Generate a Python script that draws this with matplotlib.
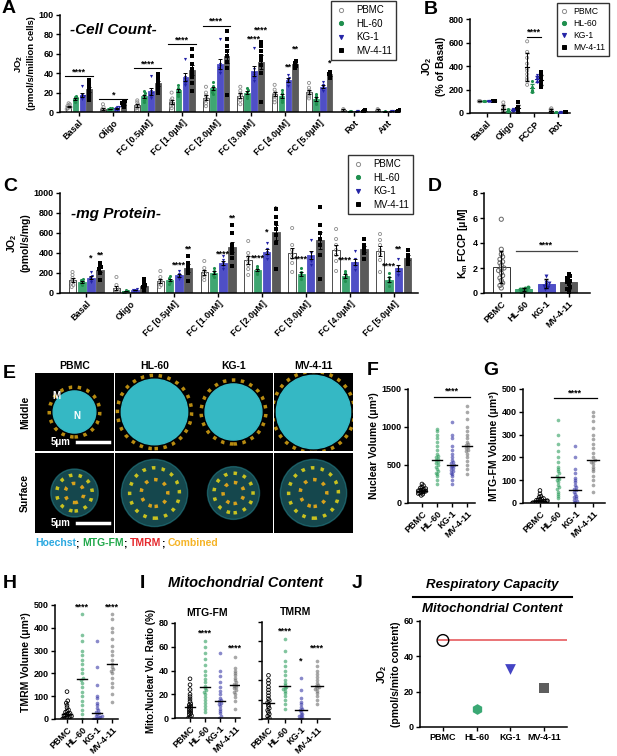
import numpy as np
import matplotlib
matplotlib.use("Agg")
from matplotlib import pyplot as plt
from matplotlib.lines import Line2D
from matplotlib.patches import Circle

plt.rcParams['font.family'] = ['Liberation Sans', 'DejaVu Sans']
plt.rcParams['font.weight'] = 'bold'
plt.rcParams['axes.labelweight'] = 'bold'
plt.rcParams['axes.titleweight'] = 'bold'
plt.rcParams['mathtext.fontset'] = 'custom'
plt.rcParams['mathtext.rm'] = 'Liberation Sans:bold'
plt.rcParams['mathtext.it'] = 'Liberation Sans:italic:bold'
plt.rcParams['mathtext.bf'] = 'Liberation Sans:bold'
plt.rcParams['mathtext.default'] = 'rm'
plt.rcParams['axes.linewidth'] = 1.1
plt.rcParams['xtick.major.width'] = 1.0
plt.rcParams['ytick.major.width'] = 1.0
plt.rcParams['xtick.major.size'] = 3
plt.rcParams['ytick.major.size'] = 3
plt.rcParams['xtick.major.pad'] = 1.5
plt.rcParams['ytick.major.pad'] = 1.5
plt.rcParams['xtick.labelsize'] = 6.5
plt.rcParams['ytick.labelsize'] = 6.5

cells = ['PBMC', 'HL-60', 'KG-1', 'MV-4-11']
bar_col = ['white', '#3fa672', '#4f4fc6', '#5a5a5a']
pt_col = ['#8c8c8c', '#1f8f4e', '#2323a6', 'black']
swarm_col = ['black', '#2e9e5e', '#3a3aa8', '#6e6e6e']
marks = ['o', 'o', 'v', 's']

# Panel A: JO2 per million cells
a_cats = ['Basal', 'Oligo', 'FC [0.5\u03bcM]', 'FC [1.0\u03bcM]', 'FC [2.0\u03bcM]',
          'FC [3.0\u03bcM]', 'FC [4.0\u03bcM]', 'FC [5.0\u03bcM]', 'Rot', 'Ant']
a_pbmc = [[3, 4, 5, 6, 7, 8, 9, 5], [0, 1, 2, 3, 5, 8], [2, 4, 5, 6, 8, 10, 12],
          [4, 6, 8, 10, 12, 14, 20], [6, 9, 12, 14, 17, 20, 26], [8, 12, 15, 17, 19, 22, 26],
          [10, 13, 16, 18, 20, 23, 28], [14, 16, 18, 20, 22, 25, 30], [1, 2, 3], [1, 2, 3]]
a_hl60 = [[10, 12, 13, 14, 15, 16], [2, 3, 3, 4, 4], [10, 12, 14, 16, 18, 20, 22],
          [17, 19, 21, 23, 25, 28], [19, 21, 23, 25, 27, 31], [14, 17, 19, 21, 23, 25],
          [10, 12, 15, 17, 20, 23], [8, 10, 12, 14, 17, 19], [0.5, 1, 1.5], [0.5, 1]]
a_kg1 = [[13, 15, 16, 17, 18, 27], [2, 3, 4, 5, 5], [14, 16, 18, 20, 22, 37],
         [28, 30, 32, 34, 36, 55], [40, 43, 45, 47, 49, 75], [32, 35, 38, 40, 44, 66],
         [27, 31, 33, 35, 38], [22, 24, 26, 28, 31], [0.5, 1, 1.5], [0.5, 1, 1.5]]
a_mv411 = [[12, 16, 20, 22, 25, 28, 30, 33], [5, 7, 8, 9, 10, 11], [20, 24, 27, 30, 33, 36, 39],
           [22, 30, 36, 40, 44, 50, 58, 65], [18, 45, 52, 58, 63, 68, 75, 84],
           [10, 40, 48, 54, 58, 63, 68, 72], [45, 47, 49, 51, 53], [35, 37, 39, 41],
           [0.5, 1, 2], [0.5, 1, 2]]
a_sig = [(0, None, 37, '****'), (1, None, 13, '*'), (2, None, 45, '****'),
         (3, None, 70, '****'), (4, None, 89, '****'), (5, 2, 71, '****'),
         (5, 3, 80, '****'), (6, 2, 42, '**'), (6, 3, 60, '**'), (7, 3, 46, '*')]

# Panel B: % of basal
b_cats = ['Basal', 'Oligo', 'FCCP', 'Rot']
b_pbmc = [[100, 100, 100], [0, 10, 20, 30, 40, 60, 90],
          [240, 280, 300, 330, 360, 380, 420, 470, 520, 610], [0, 5, 10, 20, 30, 40]]
b_hl60 = [[100, 100, 100], [10, 20, 25, 30], [180, 190, 200, 220, 270], [0, 5, 10]]
b_kg1 = [[100, 100, 100], [15, 25, 30, 35], [260, 280, 290, 300, 320], [0, 5, 10]]
b_mv411 = [[100, 100, 100], [5, 20, 30, 40, 55, 90], [220, 240, 260, 280, 300, 320, 350], [0, 5, 10]]

# Panel C: JO2 per mg protein
c_cats = a_cats[:8]
c_pbmc = [[60, 80, 100, 115, 130, 150, 180, 210], [0, 10, 20, 30, 50, 80, 160],
          [60, 80, 100, 110, 130, 160, 220], [130, 160, 180, 200, 220, 250, 320],
          [180, 240, 280, 320, 360, 400, 520], [210, 300, 350, 390, 430, 480, 650],
          [220, 320, 380, 430, 480, 540, 640], [210, 330, 390, 430, 480, 530, 590]]
c_hl60 = [[80, 100, 115, 130, 140], [10, 15, 20, 25, 30], [90, 110, 130, 150, 170],
          [160, 180, 200, 220, 250], [190, 210, 230, 250, 270], [140, 170, 190, 210, 250],
          [120, 150, 170, 200, 220], [70, 110, 130, 160, 200]]
c_kg1 = [[110, 130, 150, 170, 210], [20, 25, 30, 35, 40], [140, 160, 175, 190, 220],
         [240, 270, 300, 330, 370], [340, 380, 410, 440, 500], [280, 320, 360, 400, 530],
         [230, 270, 300, 340, 420], [180, 210, 240, 270, 340]]
c_mv411 = [[130, 200, 240, 260, 280, 300], [20, 40, 60, 80, 100, 140],
           [120, 200, 240, 270, 300, 370], [270, 350, 400, 440, 480, 600, 680],
           [240, 500, 580, 640, 700, 760, 840], [140, 380, 480, 540, 600, 680, 860],
           [340, 400, 440, 480, 540], [290, 320, 350, 380, 430]]
c_sig = [(0, 2, 300, '*'), (0, 3, 330, '**'), (2, 2, 230, '****'), (2, 3, 390, '**'),
         (3, 2, 340, '****'), (3, 3, 700, '**'), (4, 1, 300, '****'), (4, 2, 560, '*'),
         (4, 3, 790, '*'), (5, 1, 290, '****'), (6, 1, 280, '****'), (7, 1, 220, '****'),
         (7, 2, 390, '**')]

# Panel D: Km FCCP
d_pbmc = [0.4, 0.6, 0.8, 1.0, 1.2, 1.4, 1.6, 1.8, 1.9, 2.0, 2.2, 2.4, 2.5, 2.7, 2.9, 3.1, 3.5, 5.9]
d_hl60 = [0.1, 0.2, 0.25, 0.3, 0.35, 0.4, 0.5]
d_kg1 = [0.3, 0.5, 0.6, 0.7, 0.8, 0.9, 1.4]
d_mv411 = [0.1, 0.3, 0.5, 0.7, 0.9, 1.0, 1.2, 1.4, 1.5]

# Panel F: nuclear volume
f_pbmc = [100, 115, 125, 130, 140, 145, 150, 155, 160, 165, 170, 175, 180, 190, 200, 210, 230, 250]
f_hl60 = [250, 300, 350, 380, 400, 420, 450, 480, 500, 520, 540, 560, 580, 600, 620, 650,
          700, 750, 800, 850, 900, 950, 970]
f_kg1 = [250, 300, 350, 380, 400, 420, 440, 460, 480, 490, 500, 520, 540, 560, 600, 650,
         700, 750, 850, 900, 1060]
f_mv411 = [380, 450, 500, 550, 600, 640, 680, 700, 720, 740, 760, 780, 800, 850, 900, 950,
           1000, 1100, 1200, 1280]

# Panel G: MTG-FM volume
g_pbmc = [0, 1, 2, 3, 4, 5, 6, 7, 8, 9, 10, 12, 14, 16, 18, 20, 25, 30, 40, 55]
g_hl60 = [20, 30, 40, 50, 60, 70, 80, 90, 100, 105, 110, 120, 130, 140, 150, 160, 180, 200,
          230, 260, 300, 365]
g_kg1 = [0, 5, 10, 15, 20, 25, 30, 40, 50, 55, 60, 70, 80, 90, 100, 110, 130, 150, 200, 250]
g_mv411 = [50, 80, 100, 120, 140, 150, 160, 170, 180, 185, 190, 200, 220, 240, 260, 280,
           300, 330, 360, 380, 400]

# Panel H: TMRM volume
h_pbmc = [0, 2, 4, 6, 8, 10, 12, 15, 18, 20, 22, 25, 30, 35, 40, 50, 60, 70, 80, 120]
h_hl60 = [0, 20, 40, 60, 80, 100, 120, 140, 160, 170, 180, 200, 220, 240, 260, 280, 300,
          340, 370, 460]
h_kg1 = [0, 0, 2, 5, 8, 10, 12, 15, 20, 25, 30, 40, 50, 60, 70, 90, 100, 150, 230, 340]
h_mv411 = [75, 110, 140, 160, 180, 200, 210, 220, 230, 240, 260, 280, 300, 320, 350, 380,
           400, 440, 460]

# Panel I: mito:nuclear volume ratio
i_mtg_pbmc = [0, 1, 2, 3, 4, 5, 6, 7, 8, 9, 10, 11, 12, 14, 16, 18, 20, 24, 28, 33]
i_mtg_hl60 = [5, 8, 10, 13, 15, 18, 20, 22, 24, 25, 27, 30, 33, 36, 40, 45, 50, 55, 60, 65]
i_mtg_kg1 = [0, 2, 4, 6, 8, 10, 12, 13, 14, 15, 17, 20, 23, 26, 30, 35, 40, 55]
i_mtg_mv411 = [8, 14, 18, 20, 22, 24, 25, 26, 27, 28, 29, 30, 32, 34, 36, 38, 40, 42, 51]
i_tmrm_pbmc = [0, 1, 3, 5, 7, 9, 11, 13, 15, 17, 19, 21, 24, 27, 30, 33, 37, 40, 45]
i_tmrm_hl60 = [10, 15, 20, 24, 27, 29, 31, 32, 33, 35, 37, 40, 45, 50, 55, 60, 70, 82]
i_tmrm_kg1 = [0, 1, 2, 3, 4, 5, 7, 9, 10, 12, 15, 18, 22, 30, 42]
i_tmrm_mv411 = [15, 20, 24, 27, 29, 31, 32, 33, 34, 35, 37, 40, 43, 46, 50, 55, 60]

# Panel J: respiratory capacity / mito content
j_vals = [49, 10, 33, 22]
j_marks = ['o', 'h', 'v', 's']
j_cols = ['none', '#3aa874', '#4444c4', '#5e5e5e']

W, H = 617, 756
fig = plt.figure(figsize=(W / 100, H / 100), dpi=100)
overlay = fig.add_axes([0, 0, 1, 1])
overlay.axis('off')


def px_axes(l, t, r, b):
    return fig.add_axes([l / W, 1 - b / H, (r - l) / W, (b - t) / H])


def ftext(x, y, s, **kw):
    return fig.text(x / W, 1 - y / H, s, **kw)


def swarm(vals, bin_size, dx, maxw):
    vals = np.asarray(vals, float)
    off = np.zeros(len(vals))
    bins = np.floor(vals / bin_size)
    for b in np.unique(bins):
        idx = np.where(bins == b)[0]
        o = (np.arange(len(idx)) - (len(idx) - 1) / 2) * dx
        off[idx] = np.clip(o, -maxw, maxw)
    return off


def style(ax):
    for s in ['top', 'right']:
        ax.spines[s].set_visible(False)


def add_legend(ax, x0, y0, size=7, hl=1.2, tp=0.9):
    hs = []
    for j in range(4):
        fc = 'none' if j == 0 else pt_col[j]
        hs.append(Line2D([], [], ls='none', marker=marks[j], ms=3, mfc=fc, mec=pt_col[j], mew=0.7))
    leg = ax.legend(hs, cells, loc='upper left', bbox_to_anchor=(x0 / W, 1 - y0 / H),
                    bbox_transform=fig.transFigure, frameon=True, fancybox=False,
                    edgecolor='black', fontsize=size, handlelength=hl, handletextpad=tp,
                    borderpad=0.45, labelspacing=0.35, borderaxespad=0)
    leg.get_frame().set_linewidth(1.0)
    for t in leg.get_texts():
        t.set_fontweight('normal')


def bar_panel(ax, series, bw, bin_size, sig):
    for j, groups in enumerate(series):
        for i, pts in enumerate(groups):
            x = i + (j - 1.5) * bw
            pts = np.asarray(pts, float)
            m = pts.mean()
            se = pts.std(ddof=1) / np.sqrt(len(pts))
            ax.bar(x, m, width=bw * 0.82, color=bar_col[j],
                   edgecolor='#333333' if j == 0 else bar_col[j], lw=0.6, zorder=1)
            off = swarm(pts, bin_size, bw * 0.18, bw * 0.4)
            if j == 0:
                ax.scatter(x + off, pts, s=5, marker='o', facecolors='none',
                           edgecolors=pt_col[0], lw=0.6, zorder=2)
            else:
                ax.scatter(x + off, pts, s=5, marker=marks[j], color=pt_col[j], lw=0, zorder=2)
            ax.errorbar(x, m, yerr=se, color='black', lw=0.7, capsize=1.2, capthick=0.7, zorder=3)
    for g, k, y, s in sig:
        if k is None:
            ax.plot([g - 2 * bw, g + 2 * bw], [y, y], color='black', lw=0.8)
            ax.text(g, y, s, ha='center', va='bottom', fontsize=6.5)
        else:
            ax.text(g + (k - 1.5) * bw, y, s, ha='center', va='bottom', fontsize=6.5)


def rot_labels(ax, labels, size=6.5):
    ax.set_xticks(range(len(labels)))
    ax.set_xticklabels(labels, rotation=45, ha='right', rotation_mode='anchor', fontsize=size)


def swarm_panel(ax, groups, bin_size, dx, maxw, s=7):
    for j, vals in enumerate(groups):
        vals = np.asarray(vals, float)
        off = swarm(vals, bin_size, dx, maxw)
        if j == 0:
            ax.scatter(j + off, vals, s=s, facecolors='none', edgecolors='black', lw=0.6, zorder=2)
        else:
            ax.scatter(j + off, vals, s=s, color=swarm_col[j], alpha=0.6, lw=0, zorder=2)
        med = np.median(vals)
        ax.plot([j - 0.35, j + 0.35], [med, med], color='black', lw=1.0, zorder=3)
    rot_labels(ax, cells)
    style(ax)


# ---- A ----
axA = px_axes(60, 15, 400, 112)
bar_panel(axA, [a_pbmc, a_hl60, a_kg1, a_mv411], 0.2, 3, a_sig)
axA.set_xlim(-0.55, 9.35)
axA.set_ylim(0, 100)
axA.set_yticks(range(0, 101, 20))
rot_labels(axA, a_cats)
style(axA)
axA.set_ylabel('JO$_2$\n(pmol/s/million cells)', fontsize=6.8, labelpad=2)
axA.text(0.03, 0.92, '-Cell Count-', transform=axA.transAxes, fontsize=11,
         fontstyle='italic', va='top')
add_legend(axA, 331, 1)
ftext(2, 0, 'A', fontsize=14, va='top')

# ---- B ----
axB = px_axes(470, 19, 570, 113)
bser = [b_pbmc, b_hl60, b_kg1, b_mv411]
for j, groups in enumerate(bser):
    for i, pts in enumerate(groups):
        x = i + (j - 1.5) * 0.2
        pts = np.asarray(pts, float)
        off = swarm(pts, 15, 0.03, 0.08)
        if j == 0:
            axB.scatter(x + off, pts, s=5, facecolors='none', edgecolors=pt_col[0], lw=0.6, zorder=2)
        else:
            axB.scatter(x + off, pts, s=5, marker=marks[j], color=pt_col[j], lw=0, zorder=2)
        m, sd = pts.mean(), pts.std(ddof=1)
        c = pt_col[j] if j else 'black'
        axB.errorbar(x, m, yerr=sd, color=c, lw=0.7, capsize=1.2, zorder=3)
        axB.plot([x - 0.08, x + 0.08], [m, m], color=c, lw=0.8, zorder=3)
axB.plot([1.7, 2.3], [650, 650], color='black', lw=0.8)
axB.text(2, 650, '****', ha='center', va='bottom', fontsize=6.5)
axB.set_xlim(-0.7, 3.5)
axB.set_ylim(0, 800)
axB.set_yticks(range(0, 801, 200))
rot_labels(axB, b_cats)
style(axB)
axB.set_ylabel('JO$_2$\n(% of Basal)', fontsize=7.5, labelpad=2)
add_legend(axB, 557, 3, size=6.2, hl=0.8, tp=0.6)
ftext(424, 1, 'B', fontsize=14, va='top')

# ---- C ----
axC = px_axes(60, 193, 418, 293)
bar_panel(axC, [c_pbmc, c_hl60, c_kg1, c_mv411], 0.21, 30, c_sig)
axC.set_xlim(-0.6, 7.55)
axC.set_ylim(0, 1000)
axC.set_yticks(range(0, 1001, 200))
rot_labels(axC, c_cats)
style(axC)
axC.set_ylabel('JO$_2$\n(pmol/s/mg)', fontsize=7.5, labelpad=2)
axC.text(0.03, 0.86, '-mg Protein-', transform=axC.transAxes, fontsize=11,
         fontstyle='italic', va='top')
add_legend(axC, 348, 155)
ftext(3, 178, 'C', fontsize=14, va='top')

# ---- D ----
axD = px_axes(484, 193, 590, 293)
dser = [d_pbmc, d_hl60, d_kg1, d_mv411]
for j, pts in enumerate(dser):
    pts = np.asarray(pts, float)
    m, sd = pts.mean(), pts.std(ddof=1)
    axD.bar(j, m, width=0.75, color=bar_col[j], edgecolor='#333333' if j == 0 else bar_col[j],
            lw=0.7, zorder=1)
    off = swarm(pts, 0.3, 0.12, 0.32)
    if j == 0:
        axD.scatter(j + off, pts, s=9, facecolors='none', edgecolors='#666666', lw=0.7, zorder=2)
    else:
        axD.scatter(j + off, pts, s=8, marker=marks[j], color=pt_col[j], lw=0, zorder=2)
    axD.errorbar(j, m, yerr=sd, color='black', lw=0.8, capsize=1.5, zorder=3)
axD.plot([1 - 0.35, 3 + 0.35], [3.4, 3.4], color='#444444', lw=0.9)
axD.text(2, 3.45, '****', ha='center', va='bottom', fontsize=6.5)
axD.set_xlim(-0.77, 3.95)
axD.set_ylim(0, 8)
axD.set_yticks(range(0, 9, 2))
rot_labels(axD, cells)
style(axD)
axD.set_ylabel('K$_\\mathregular{m}$ FCCP [\u03bcM]', fontsize=7.5, labelpad=2)
ftext(428, 178, 'D', fontsize=14, va='top')

# ---- E (image placeholders) ----
tile_x = [35, 115, 194, 274]
tile_w = 79
nuc_mid = [0.27, 0.42, 0.36, 0.47]
nuc_srf = [0.30, 0.42, 0.33, 0.42]
for c in range(4):
    ftext(tile_x[c] + tile_w / 2, 366, cells[c], fontsize=7.5, ha='center', va='center')
    for r, (top, bot) in enumerate([(373, 451), (453, 533)]):
        ax = px_axes(tile_x[c], top, tile_x[c] + tile_w, bot)
        ax.set_facecolor('black')
        ax.set_xlim(0, 1)
        ax.set_ylim(0, 1)
        ax.set_xticks([])
        ax.set_yticks([])
        for s in ax.spines.values():
            s.set_visible(False)
        if r == 0:
            rad = nuc_mid[c]
            ax.add_patch(Circle((0.5, 0.5), rad + 0.05, fill=False, ec='#d9a514', lw=2.5,
                                ls=(0, (1, 1.6)), alpha=0.85))
            ax.add_patch(Circle((0.5, 0.5), rad, color='#35b8c4'))
        else:
            rad = nuc_srf[c]
            ax.add_patch(Circle((0.5, 0.5), rad, color='#2a8f9a', alpha=0.5))
            ax.add_patch(Circle((0.5, 0.5), rad * 0.75, fill=False, ec='#c9c21f', lw=2.5,
                                ls=(0, (1, 1.8))))
            ax.add_patch(Circle((0.5, 0.5), rad * 0.4, fill=False, ec='#d8a21c', lw=2.5,
                                ls=(0, (1, 1.8))))
        if c == 0:
            ax.plot([0.53, 0.94], [0.12, 0.12], color='white', lw=2.5)
            ax.text(0.2, 0.12, '5\u03bcm', color='white', fontsize=7, va='center')
            if r == 0:
                ax.text(0.22, 0.7, 'M', color='white', fontsize=7, va='center')
                ax.text(0.48, 0.45, 'N', color='white', fontsize=7, va='center')
ftext(25, 412, 'Middle', fontsize=7.5, rotation=90, ha='center', va='center')
ftext(25, 493, 'Surface', fontsize=7.5, rotation=90, ha='center', va='center')
ftext(3, 365, 'E', fontsize=14, va='top')
prev = overlay.text(35 / W, 1 - 543 / H, 'Hoechst', color='#2aa8e0', fontsize=7.5,
                    va='center', transform=overlay.transAxes)
for s, col in [('; ', 'black'), ('MTG-FM', '#20a84a'), ('; ', 'black'), ('TMRM', '#e5262b'),
               ('; ', 'black'), ('Combined', '#f5b427')]:
    prev = overlay.annotate(s, xy=(1, 0), xycoords=prev, va='bottom', ha='left',
                            color=col, fontsize=7.5)

# ---- F ----
axF = px_axes(408, 389, 475, 503)
swarm_panel(axF, [f_pbmc, f_hl60, f_kg1, f_mv411], 40, 0.1, 0.42)
axF.plot([0.8, 3.2], [1400, 1400], color='black', lw=0.9)
axF.text(2, 1410, '****', ha='center', va='bottom', fontsize=6.5)
axF.set_xlim(-0.93, 3.53)
axF.set_ylim(0, 1500)
axF.set_yticks([0, 500, 1000, 1500])
axF.set_ylabel('Nuclear Volume (\u03bcm\u00b3)', fontsize=7.5, labelpad=2)
ftext(367, 362, 'F', fontsize=14, va='top')

# ---- G ----
axG = px_axes(523, 389, 605, 503)
swarm_panel(axG, [g_pbmc, g_hl60, g_kg1, g_mv411], 12, 0.1, 0.42)
axG.plot([0.8, 3.2], [460, 460], color='black', lw=0.9)
axG.text(2, 463, '****', ha='center', va='bottom', fontsize=6.5)
axG.set_xlim(-0.96, 3.68)
axG.set_ylim(0, 500)
axG.set_yticks(range(0, 501, 100))
axG.set_ylabel('MTG-FM Volume (\u03bcm\u00b3)', fontsize=7.5, labelpad=2)
ftext(483, 362, 'G', fontsize=14, va='top')

# ---- H ----
axH = px_axes(55, 605, 118, 719)
swarm_panel(axH, [h_pbmc, h_hl60, h_kg1, h_mv411], 14, 0.1, 0.42)
axH.text(1, 470, '****', ha='center', va='bottom', fontsize=6.5)
axH.text(3, 470, '****', ha='center', va='bottom', fontsize=6.5)
axH.set_xlim(-0.8, 3.4)
axH.set_ylim(0, 500)
axH.set_yticks(range(0, 501, 100))
axH.set_ylabel('TMRM Volume (\u03bcm\u00b3)', fontsize=7.5, labelpad=2)
ftext(3, 575, 'H', fontsize=14, va='top')

# ---- I ----
axI1 = px_axes(175, 623, 240, 718)
swarm_panel(axI1, [i_mtg_pbmc, i_mtg_hl60, i_mtg_kg1, i_mtg_mv411], 2.2, 0.1, 0.42)
axI1.text(1, 68, '****', ha='center', va='bottom', fontsize=6.5)
axI1.text(3, 55, '****', ha='center', va='bottom', fontsize=6.5)
axI1.set_xlim(-1.0, 3.33)
axI1.set_ylim(0, 80)
axI1.set_yticks(range(0, 81, 20))
axI1.set_ylabel('Mito:Nuclear Vol. Ratio (%)', fontsize=7, labelpad=2)
axI1.set_title('MTG-FM', fontsize=7.5, pad=5)
axI2 = px_axes(262, 622, 330, 719)
swarm_panel(axI2, [i_tmrm_pbmc, i_tmrm_hl60, i_tmrm_kg1, i_tmrm_mv411], 2.8, 0.1, 0.42)
axI2.text(1, 86, '****', ha='center', va='bottom', fontsize=6.5)
axI2.text(2, 55, '*', ha='center', va='bottom', fontsize=6.5)
axI2.text(3, 68, '****', ha='center', va='bottom', fontsize=6.5)
axI2.set_xlim(-0.4, 3.8)
axI2.set_ylim(0, 100)
axI2.set_yticks(range(0, 101, 20))
axI2.set_yticklabels([])
axI2.set_title('TMRM', fontsize=7.5, pad=5)
ftext(245, 583, 'Mitochondrial Content', fontsize=10.5, fontstyle='italic',
      ha='center', va='center')
ftext(140, 575, 'I', fontsize=14, va='top')

# ---- J ----
axJ = px_axes(420, 621, 567, 727)
for j, v in enumerate(j_vals):
    if j == 0:
        axJ.scatter(j, v, s=70, marker='o', facecolors='none', edgecolors='black', lw=1.0, zorder=3)
    else:
        axJ.scatter(j, v, s=60, marker=j_marks[j], color=j_cols[j], lw=0, zorder=3)
axJ.set_xlim(-0.68, 3.68)
axJ.hlines(j_vals[0], -0.15, 3.68, color='#e8686b', lw=1.3, zorder=2)
axJ.set_ylim(0, 60)
axJ.set_yticks(range(0, 61, 20))
axJ.set_xticks(range(4))
axJ.set_xticklabels(cells, fontsize=6.5)
style(axJ)
axJ.set_ylabel('JO$_2$\n(pmol/s/mito content)', fontsize=7.5, labelpad=2)
ftext(492, 585, 'Respiratory Capacity', fontsize=9.5, fontstyle='italic', ha='center', va='center')
overlay.plot([413 / W, 572 / W], [1 - 597 / H, 1 - 597 / H], color='black', lw=1.5,
             transform=overlay.transAxes)
ftext(492, 609, 'Mitochondrial Content', fontsize=9.5, fontstyle='italic', ha='center', va='center')
ftext(352, 575, 'J', fontsize=14, va='top')

fig.savefig('out.png', dpi=100)
